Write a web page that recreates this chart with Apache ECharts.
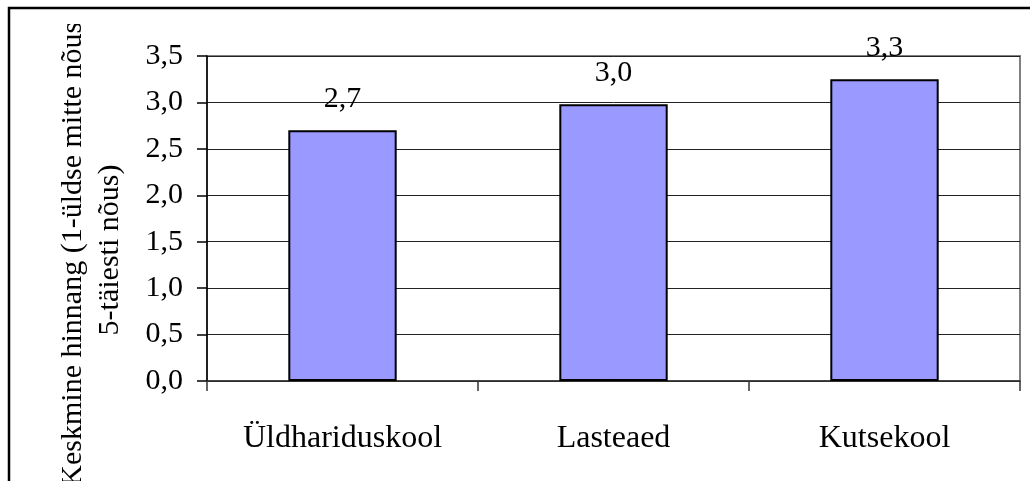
<!DOCTYPE html>
<html>
<head>
<meta charset="utf-8">
<script src="https://cdn.jsdelivr.net/npm/echarts@6/dist/echarts.min.js"></script>
<style>
  html, body { margin: 0; padding: 0; background: #fff; }
  #chart { width: 1030px; height: 481px; }
</style>
</head>
<body>
<div id="chart"></div>
<script>
// School types and their mean agreement score (scale 1–5)
const categories = ['Üldhariduskool', 'Lasteaed', 'Kutsekool'];
const meanScores = [2.70, 2.98, 3.25];
const yTitleLines = ['Keskmine hinnang (1-üldse mitte nõus;', '5-täiesti nõus)'];

const FONT = '"Liberation Serif", "Times New Roman", serif';
const fmt = v => Number(v).toFixed(1).replace('.', ',');

const chart = echarts.init(document.getElementById('chart'), null, { renderer: 'canvas' });

chart.setOption({
  backgroundColor: '#ffffff',
  animation: false,
  grid: {
    left: 207, right: 10, top: 56, bottom: 100,
    show: true,
    borderColor: '#808080',
    borderWidth: 2,
    backgroundColor: 'transparent'
  },
  xAxis: {
    type: 'category',
    data: categories,
    axisLine: { show: true, lineStyle: { color: '#333', width: 1.5 } },
    axisTick: { show: true, length: 10, lineStyle: { color: '#333', width: 1.5 } },
    axisLabel: {
      margin: 42,
      fontFamily: FONT,
      fontSize: 32,
      color: '#000'
    },
    splitLine: { show: false }
  },
  yAxis: {
    type: 'value',
    min: 0,
    max: 3.5,
    interval: 0.5,
    axisLine: { show: true, lineStyle: { color: '#000', width: 1.5 } },
    axisTick: { show: true, length: 10, lineStyle: { color: '#000', width: 1.5 } },
    axisLabel: {
      margin: 24,
      fontFamily: FONT,
      fontSize: 30,
      color: '#000',
      formatter: fmt
    },
    splitLine: { show: true, lineStyle: { color: '#222', width: 1 } }
  },
  series: [{
    type: 'bar',
    data: meanScores,
    barWidth: '40%',
    itemStyle: {
      color: '#9999FF',
      borderColor: '#000',
      borderWidth: 2
    },
    label: {
      show: true,
      position: 'top',
      distance: 16,
      fontFamily: FONT,
      fontSize: 30,
      color: '#000',
      formatter: p => fmt(p.value)
    },
    z: 3
  }],
  graphic: [
    {
      // rotated value-axis title, two lines
      type: 'text',
      x: 92,
      y: 250,
      rotation: Math.PI / 2,
      z: 10,
      style: {
        text: yTitleLines.join('\n'),
        font: '30px ' + FONT,
        fill: '#000',
        align: 'center',
        verticalAlign: 'middle',
        lineHeight: 37
      }
    },
    {
      // keeps the title clear of the frame's top edge
      type: 'rect',
      shape: { x: 11, y: 9, width: 180, height: 15 },
      style: { fill: '#fff' },
      z: 11
    },
    {
      // outer chart frame
      type: 'rect',
      shape: { x: 9, y: 8, width: 1100, height: 600 },
      style: { fill: 'none', stroke: '#000', lineWidth: 2.5 },
      z: 12
    }
  ]
});
</script>
</body>
</html>
